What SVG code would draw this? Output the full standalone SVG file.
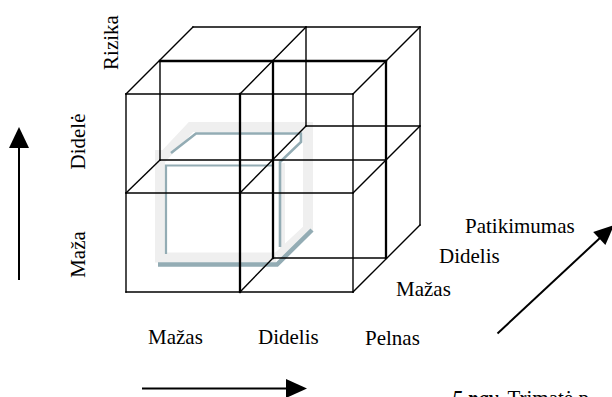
<svg xmlns="http://www.w3.org/2000/svg" width="612" height="397" viewBox="0 0 612 397">
  <style>
    .edge { stroke: #000; stroke-width: 1.4; fill: none; stroke-linecap: square; }
    .bold { stroke-width: 2.3; }
    .band { stroke: #efefef; stroke-width: 10; fill: none; stroke-linejoin: miter; }
    .shade { stroke: #93acb4; fill: none; stroke-linejoin: miter; }
    .lbl { font-family: "Liberation Serif", "Times New Roman", serif; font-size: 21px; fill: #000; }
    .arrow { stroke: #000; stroke-width: 2; fill: none; }
  </style>

  <!-- shaded frame inside the lower-left cell -->
  <g id="frame">
    <path class="band" d="M160,150 V257.5 H276"/>
    <path class="band" d="M160,160 L191,127 H308 V229 L278,257"/>
    <path class="band" d="M282.5,163 V250" style="stroke-width:5"/>
    <path class="shade" d="M166,254 V165.5 H273" style="stroke-width:2.2"/>
    <path class="shade" d="M171,153 L196,133.5 H301 V142 L280,162 V247" style="stroke-width:2.6"/>
    <path class="shade" d="M158,264.5 H277 L312,230" style="stroke-width:4.5"/>
  </g>

  <!-- lattice of cubes -->
  <g id="connectors">
    <!-- front layer -->
    <line class="edge" x1="126" y1="94" x2="353" y2="94"/>
    <line class="edge" x1="126" y1="193" x2="353" y2="193"/>
    <line class="edge" x1="126" y1="292" x2="353" y2="292"/>
    <line class="edge" x1="126" y1="94" x2="126" y2="292"/>
    <line class="edge bold" x1="240" y1="94" x2="240" y2="292"/>
    <line class="edge" x1="353" y1="94" x2="353" y2="292"/>
    <!-- middle layer -->
    <line class="edge bold" x1="160" y1="61" x2="386" y2="61"/>
    <line class="edge" x1="160" y1="160" x2="386" y2="160"/>
    <line class="edge" x1="273" y1="258" x2="386" y2="258"/>
    <line class="edge" x1="160" y1="61" x2="160" y2="160"/>
    <line class="edge bold" x1="273" y1="61" x2="273" y2="258"/>
    <line class="edge bold" x1="386" y1="61" x2="386" y2="258"/>
    <!-- back layer -->
    <line class="edge" x1="193" y1="27" x2="420" y2="27"/>
    <line class="edge" x1="306" y1="27" x2="306" y2="126"/>
    <line class="edge" x1="306" y1="126" x2="420" y2="126"/>
    <line class="edge" x1="420" y1="27" x2="420" y2="225"/>
    <!-- depth edges -->
    <line class="edge" x1="126" y1="94" x2="193" y2="27"/>
    <line class="edge" x1="240" y1="94" x2="306" y2="27"/>
    <line class="edge" x1="353" y1="94" x2="420" y2="27"/>
    <line class="edge" x1="126" y1="193" x2="160" y2="160"/>
    <line class="edge" x1="240" y1="193" x2="306" y2="126"/>
    <line class="edge" x1="353" y1="193" x2="420" y2="126"/>
    <line class="edge" x1="240" y1="292" x2="273" y2="258"/>
    <line class="edge" x1="353" y1="292" x2="420" y2="225"/>
  </g>

  <!-- axis arrows -->
  <g id="axes">
    <line class="arrow" x1="19" y1="280" x2="19" y2="145"/>
    <polygon points="19,127 9,148 29,148" fill="#000"/>
    <line class="arrow" x1="142" y1="388.5" x2="289" y2="388.5"/>
    <polygon points="307,388.5 286,379 286,398" fill="#000"/>
    <line class="arrow" x1="497.5" y1="333.5" x2="601" y2="237"/>
    <polygon points="614,225 605.4,245.1 593.2,231.9" fill="#000"/>
  </g>

  <!-- axis labels -->
  <g id="labels">
    <text class="lbl" transform="translate(118,42.5) rotate(-90)" text-anchor="middle">Rizika</text>
    <text class="lbl" transform="translate(85,141.5) rotate(-90)" text-anchor="middle">Didelė</text>
    <text class="lbl" transform="translate(85,254.5) rotate(-90)" text-anchor="middle">Maža</text>
    <text class="lbl" x="148" y="344">Mažas</text>
    <text class="lbl" x="258" y="344">Didelis</text>
    <text class="lbl" x="365" y="345">Pelnas</text>
    <text class="lbl" x="396" y="296">Mažas</text>
    <text class="lbl" x="439" y="263">Didelis</text>
    <text class="lbl" x="465" y="233">Patikimumas</text>
    <text class="lbl" x="452" y="405"><tspan font-weight="bold" font-style="italic">5 pav.</tspan>  Trimatė p</text>
  </g>
</svg>
